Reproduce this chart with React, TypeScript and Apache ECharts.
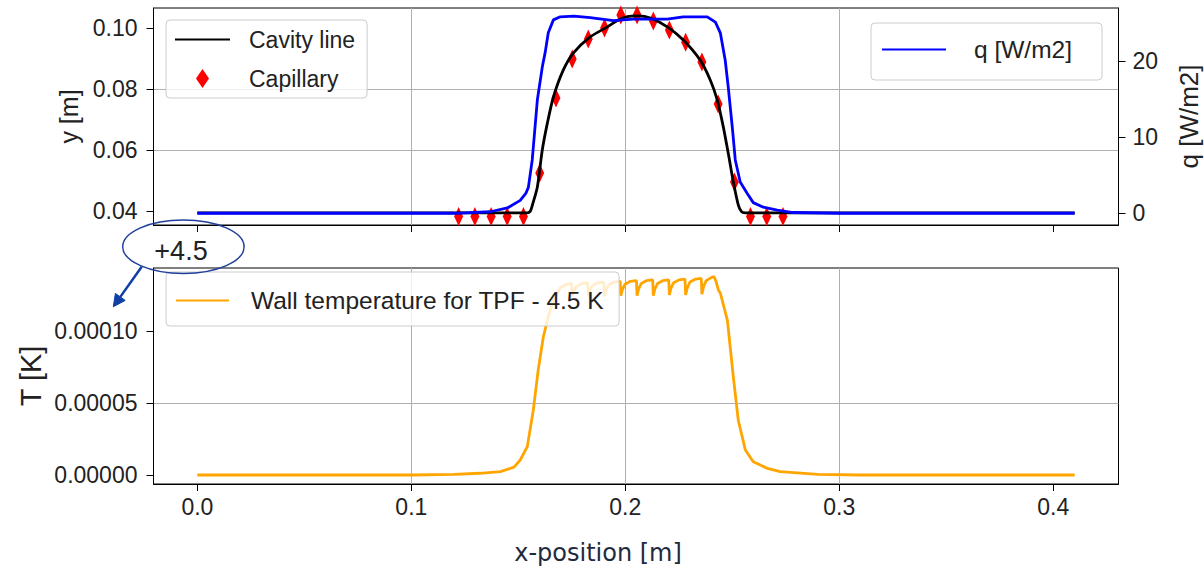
import React, { useEffect, useRef } from "react";
import * as echarts from "echarts";

// ---------- data ----------
const X_TICKS = [0.0, 0.1, 0.2, 0.3, 0.4];
const Y_TICKS = [0.04, 0.06, 0.08, 0.1];
const Q_TICKS = [0, 10, 20];
const T_TICKS = [0, 0.00005, 0.0001];

// Cavity line [x (m), y (m)]
const cavityLine: number[][] = [
  [0.0, 0.0394], [0.154, 0.0394], [0.1555, 0.0398], [0.1568, 0.0425],
  [0.1589, 0.0479], [0.1612, 0.06], [0.1636, 0.0689], [0.1664, 0.0774],
  [0.171, 0.0862], [0.1757, 0.0918], [0.1836, 0.0971], [0.1916, 0.1004],
  [0.1965, 0.1026], [0.2009, 0.1038], [0.206, 0.104], [0.2117, 0.1033],
  [0.2196, 0.1004], [0.2271, 0.0961], [0.235, 0.0895], [0.2397, 0.083],
  [0.243, 0.0764], [0.2458, 0.0676], [0.2481, 0.059], [0.2505, 0.0495],
  [0.2528, 0.042], [0.2543, 0.0398], [0.256, 0.0394], [0.41, 0.0394],
];

// Capillary positions
const capillaryX = [
  0.1221, 0.1297, 0.1373, 0.1448, 0.1524, 0.16, 0.1676, 0.1752, 0.1827, 0.1903,
  0.1979, 0.2055, 0.2131, 0.2206, 0.2282, 0.2358, 0.2434, 0.251, 0.2585, 0.2661, 0.2737,
];
const capillaryY = [
  0.0382, 0.0382, 0.0382, 0.0382, 0.0382, 0.0525, 0.0771, 0.0899, 0.0964, 0.1,
  0.1043, 0.1043, 0.1023, 0.0994, 0.0954, 0.0889, 0.0751, 0.0495, 0.0382, 0.0382, 0.0382,
];

// Heat flux q [W/m2]
const heatFlux: number[][] = [
  [0.0, 0], [0.12, 0], [0.1369, 0.2], [0.1449, 0.7], [0.1509, 1.7], [0.1535, 2.6],
  [0.1547, 3.4], [0.1565, 7.0], [0.1589, 14.9], [0.1612, 19.2], [0.1626, 21.2],
  [0.164, 23.7], [0.1664, 25.4], [0.1696, 25.8], [0.176, 25.9], [0.1836, 25.7],
  [0.1944, 25.3], [0.2037, 25.5], [0.212, 25.5], [0.2196, 25.5], [0.2271, 25.8],
  [0.2383, 25.8], [0.2421, 25.1], [0.2444, 23.7], [0.2467, 20.1], [0.2481, 16.6],
  [0.25, 11.3], [0.2514, 7.0], [0.2537, 4.1], [0.257, 2.6], [0.2598, 1.4],
  [0.2645, 0.8], [0.271, 0.4], [0.2785, 0.1], [0.3, 0], [0.41, 0],
];

// Wall temperature (offset +4.5 K)
const wallTemp: number[][] = [
  [0.0, 0], [0.1, 0], [0.12, 0.5e-6], [0.132, 1.2e-6], [0.1416, 2.3e-6], [0.148, 5.5e-6],
  [0.1509, 1.04e-5], [0.1542, 1.97e-5], [0.157, 4.5e-5], [0.1593, 7.3e-5], [0.1617, 9.6e-5],
  [0.164, 1.1e-4], [0.1664, 1.215e-4], [0.1696, 1.3e-4], [0.172, 1.32e-4], [0.1749, 1.33e-4],
  [0.1752, 1.24e-4], [0.176, 1.28e-4], [0.1772, 1.31e-4], [0.1797, 1.33e-4], [0.1824, 1.335e-4],
  [0.1827, 1.24e-4], [0.1835, 1.285e-4], [0.1847, 1.315e-4], [0.1872, 1.335e-4], [0.19, 1.34e-4],
  [0.1903, 1.24e-4], [0.1911, 1.29e-4], [0.1923, 1.32e-4], [0.1948, 1.34e-4], [0.1976, 1.345e-4],
  [0.1979, 1.245e-4], [0.1987, 1.29e-4], [0.1999, 1.325e-4], [0.2024, 1.345e-4], [0.2052, 1.35e-4],
  [0.2055, 1.245e-4], [0.2063, 1.295e-4], [0.2075, 1.33e-4], [0.21, 1.35e-4], [0.2128, 1.355e-4],
  [0.2131, 1.245e-4], [0.2139, 1.295e-4], [0.2151, 1.33e-4], [0.2176, 1.35e-4], [0.2203, 1.355e-4],
  [0.2206, 1.25e-4], [0.2214, 1.3e-4], [0.2226, 1.335e-4], [0.2251, 1.355e-4], [0.2279, 1.36e-4],
  [0.2282, 1.25e-4], [0.229, 1.3e-4], [0.2302, 1.34e-4], [0.2327, 1.36e-4], [0.2355, 1.365e-4],
  [0.2358, 1.255e-4], [0.2366, 1.31e-4], [0.2378, 1.35e-4], [0.2403, 1.372e-4], [0.2415, 1.377e-4],
  [0.2425, 1.34e-4], [0.2435, 1.285e-4], [0.2444, 1.264e-4], [0.2477, 1.076e-4], [0.2505, 6.8e-5],
  [0.2528, 3.8e-5], [0.2561, 1.74e-5], [0.2598, 9.2e-6], [0.2664, 4.6e-6], [0.2724, 2.3e-6],
  [0.29, 0.5e-6], [0.31, 0], [0.41, 0],
];

const X_MIN = -0.0205;
const X_MAX = 0.4305;

const DIAMOND = "path://M0,-9.5L6.5,0L0,9.5L-6.5,0Z";
const FONT = "Liberation Sans";
const TXT = "#222222";
const GRIDC = "#b0b0b0";
const HIDE_SYMBOL = { opacity: 0, borderWidth: 0 };

function makeX(grid: number, labels: boolean) {
  return {
    type: "value",
    gridIndex: grid,
    min: X_MIN,
    max: X_MAX,
    axisLine: { show: true, onZero: false, lineStyle: { color: "#000", width: 1 } },
    axisTick: { show: true, length: 7, customValues: X_TICKS, lineStyle: { color: "#000", width: 1 } },
    axisLabel: {
      show: labels,
      customValues: X_TICKS,
      formatter: (v: number) => v.toFixed(1),
      fontSize: 23,
      fontFamily: FONT,
      color: TXT,
      margin: 11,
    },
    splitLine: { show: true, showMinLine: false, showMaxLine: false, lineStyle: { color: GRIDC, width: 1 } },
  };
}

const legendBox = {
  orient: "vertical",
  backgroundColor: "rgba(255,255,255,0.8)",
  borderColor: "#cccccc",
  borderWidth: 1,
  borderRadius: 4,
  selectedMode: false,
};

const option: any = {
  animation: false,
  backgroundColor: "#ffffff",
  textStyle: { fontFamily: FONT },
  grid: [
    { left: 153.5, top: 8, width: 965, height: 217, show: true, borderColor: "#000", borderWidth: 1, backgroundColor: "transparent", outerBoundsMode: "none" },
    { left: 153.5, top: 268, width: 965, height: 216, show: true, borderColor: "#000", borderWidth: 1, backgroundColor: "transparent", outerBoundsMode: "none" },
  ],
  xAxis: [makeX(0, false), makeX(1, true)],
  yAxis: [
    {
      type: "value",
      gridIndex: 0,
      position: "left",
      min: 0.0354,
      max: 0.1066,
      name: "y [m]",
      nameLocation: "middle",
      nameGap: 72,
      nameRotate: 90,
      nameMoveOverlap: false,
      nameTextStyle: { fontSize: 25, fontFamily: FONT, color: TXT },
      axisLine: { show: true, onZero: false, lineStyle: { color: "#000" } },
      axisTick: { show: true, length: 7, customValues: Y_TICKS, lineStyle: { color: "#000" } },
      axisLabel: { customValues: Y_TICKS, formatter: (v: number) => v.toFixed(2), fontSize: 23, fontFamily: FONT, color: TXT, margin: 16 },
      splitLine: { show: true, showMinLine: false, showMaxLine: false, lineStyle: { color: GRIDC, width: 1 } },
    },
    {
      type: "value",
      gridIndex: 0,
      position: "right",
      min: -1.54,
      max: 26.96,
      name: "q [W/m2]",
      nameLocation: "middle",
      nameGap: 57,
      nameRotate: 90,
      nameMoveOverlap: false,
      nameTextStyle: { fontSize: 26, fontFamily: FONT, color: TXT },
      axisLine: { show: true, onZero: false, lineStyle: { color: "#000" } },
      axisTick: { show: true, length: 7, customValues: Q_TICKS, lineStyle: { color: "#000" } },
      axisLabel: { customValues: Q_TICKS, formatter: (v: number) => String(v), fontSize: 23, fontFamily: FONT, color: TXT, margin: 14 },
      splitLine: { show: false },
    },
    {
      type: "value",
      gridIndex: 1,
      position: "left",
      min: -0.00000625,
      max: 0.00014375,
      name: "T [K]",
      nameLocation: "middle",
      nameGap: 108,
      nameRotate: 90,
      nameMoveOverlap: false,
      nameTextStyle: { fontSize: 29, fontFamily: FONT, color: TXT },
      axisLine: { show: true, onZero: false, lineStyle: { color: "#000" } },
      axisTick: { show: true, length: 7, customValues: T_TICKS, lineStyle: { color: "#000" } },
      axisLabel: { customValues: T_TICKS, formatter: (v: number) => v.toFixed(5), fontSize: 23, fontFamily: FONT, color: TXT, margin: 16 },
      splitLine: { show: true, showMinLine: false, showMaxLine: false, lineStyle: { color: GRIDC, width: 1 } },
    },
  ],
  legend: [
    {
      ...legendBox,
      data: [
        { name: "Cavity line", itemStyle: HIDE_SYMBOL },
        { name: "Capillary", icon: DIAMOND },
      ],
      left: 166,
      top: 20,
      itemWidth: 55,
      itemHeight: 19,
      itemGap: 16,
      padding: [8, 12, 8, 8],
      textStyle: { fontSize: 23, fontFamily: FONT, color: TXT, padding: [0, 0, 0, 14] },
    },
    {
      ...legendBox,
      data: [{ name: "q [W/m2]", itemStyle: HIDE_SYMBOL }],
      left: 871,
      top: 23,
      itemWidth: 64,
      itemHeight: 16,
      padding: [14, 30, 18, 10],
      textStyle: { fontSize: 24.5, fontFamily: FONT, color: TXT, padding: [0, 0, 0, 23] },
    },
    {
      ...legendBox,
      data: [{ name: "Wall temperature for TPF - 4.5 K", itemStyle: HIDE_SYMBOL }],
      left: 166,
      top: 272,
      itemWidth: 53,
      itemHeight: 16,
      padding: [16, 15, 13, 9],
      textStyle: { fontSize: 24.5, fontFamily: FONT, color: TXT, padding: [0, 0, 0, 17] },
    },
  ],
  series: [
    {
      name: "Capillary",
      type: "scatter",
      xAxisIndex: 0,
      yAxisIndex: 0,
      data: capillaryX.map((x, i) => [x, capillaryY[i]]),
      symbol: DIAMOND,
      symbolSize: [13, 19],
      symbolKeepAspect: true,
      itemStyle: { color: "#ff0000", opacity: 1 },
      z: 3,
    },
    {
      name: "Cavity line",
      type: "line",
      xAxisIndex: 0,
      yAxisIndex: 0,
      data: cavityLine,
      symbol: "none",
      showSymbol: false,
      smooth: 0.25,
      lineStyle: { color: "#000000", width: 2.8 },
      itemStyle: { color: "#000000" },
      z: 4,
    },
    {
      name: "q [W/m2]",
      type: "line",
      xAxisIndex: 0,
      yAxisIndex: 1,
      data: heatFlux,
      symbol: "none",
      showSymbol: false,
      lineStyle: { color: "#0000ff", width: 2.8 },
      itemStyle: { color: "#0000ff" },
      z: 5,
    },
    {
      name: "Wall temperature for TPF - 4.5 K",
      type: "line",
      xAxisIndex: 1,
      yAxisIndex: 2,
      data: wallTemp,
      symbol: "none",
      showSymbol: false,
      lineStyle: { color: "#ffa500", width: 2.8 },
      itemStyle: { color: "#ffa500" },
      z: 3,
    },
  ],
  graphic: [
    {
      type: "text",
      x: 181,
      y: 251,
      z: 100,
      style: { text: "+4.5", fontSize: 27, fontFamily: FONT, fill: TXT, align: "center", verticalAlign: "middle" },
    },
    {
      type: "ellipse",
      z: 100,
      shape: { cx: 183.4, cy: 246.7, rx: 60.7, ry: 26.7 },
      style: { fill: "none", stroke: "#1f3f9a", lineWidth: 1.5 },
    },
    {
      type: "line",
      z: 100,
      shape: { x1: 141.7, y1: 266.7, x2: 120.3, y2: 296.9 },
      style: { stroke: "#0d3fa6", lineWidth: 2.5 },
    },
    {
      type: "polygon",
      z: 100,
      shape: { points: [[113.3, 306.7], [125.2, 300.4], [115.4, 293.4]] },
      style: { fill: "#0d3fa6", stroke: "#0d3fa6", lineWidth: 1 },
    },
    {
      type: "text",
      x: 598,
      y: 553,
      z: 100,
      style: { text: "x-position [m]", fontSize: 24, fontFamily: "DejaVu Sans", fill: "#1f2a3c", align: "center", verticalAlign: "middle" },
    },
  ],
};

export default function App() {
  const ref = useRef<HTMLDivElement>(null);
  useEffect(() => {
    if (!ref.current) return;
    const chart = echarts.init(ref.current, null, { renderer: "svg" });
    chart.setOption(option);
    return () => chart.dispose();
  }, []);
  return (
    <div
      ref={ref}
      style={{ position: "absolute", left: 0, top: 0, width: 1204, height: 567, background: "#ffffff" }}
    />
  );
}
